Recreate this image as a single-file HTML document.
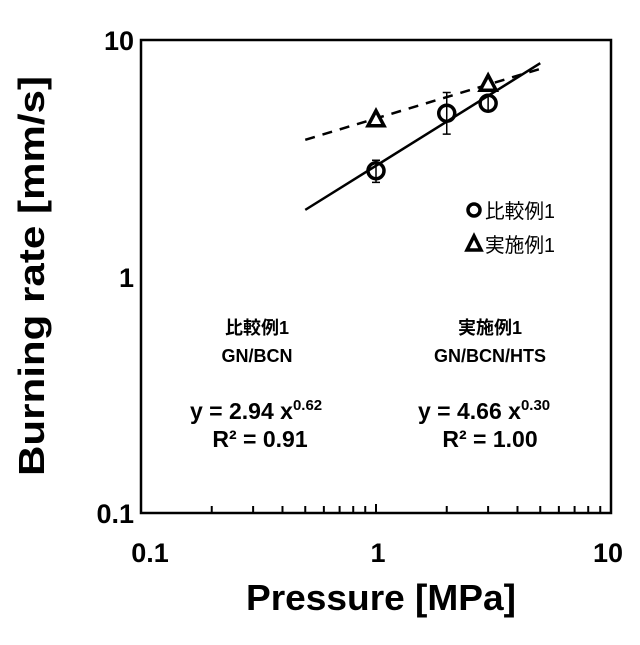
<!DOCTYPE html>
<html><head><meta charset="utf-8"><style>
body{margin:0;background:#fff;}
svg text{font-family:"Liberation Sans","Noto Sans CJK JP",sans-serif;font-weight:bold;fill:#000;}
</style></head><body>
<svg id="chart" width="640" height="640" viewBox="0 0 640 640">
<rect x="141" y="40" width="470" height="473" fill="none" stroke="#000" stroke-width="2.5"/>
<g id="ticks"></g>
<g id="marks"></g>
<text x="150" y="562" font-size="27" text-anchor="middle">0.1</text>
<text x="378" y="562" font-size="27" text-anchor="middle">1</text>
<text x="608" y="562" font-size="27" text-anchor="middle">10</text>
<text x="134" y="50" font-size="27" text-anchor="end">10</text>
<text x="134" y="287" font-size="27" text-anchor="end">1</text>
<text x="134" y="523" font-size="27" text-anchor="end">0.1</text>
<text x="246" y="610" font-size="36" textLength="270" lengthAdjust="spacingAndGlyphs">Pressure [MPa]</text>
<text transform="translate(44,476) rotate(-90)" font-size="36" textLength="400" lengthAdjust="spacingAndGlyphs">Burning rate [mm/s]</text>
<g>
<circle cx="474" cy="210" r="6" fill="none" stroke="#000" stroke-width="3.5"/>
<text x="485" y="218" font-size="20" textLength="70" lengthAdjust="spacingAndGlyphs" style="font-weight:normal">比較例1</text>
<polygon points="474,236 467,250 481,250" fill="#fff" stroke="#000" stroke-width="3.5"/>
<text x="485" y="252" font-size="20" textLength="70" lengthAdjust="spacingAndGlyphs" style="font-weight:normal">実施例1</text>
</g>
<g text-anchor="middle">
<text x="257" y="334" font-size="18">比較例1</text>
<text x="257" y="362" font-size="18">GN/BCN</text>
<text x="190" y="419" font-size="23" text-anchor="start">y = 2.94 x<tspan font-size="15" dy="-9">0.62</tspan></text>
<text x="260" y="447" font-size="23">R² = 0.91</text>
</g>
<g text-anchor="middle">
<text x="490" y="334" font-size="18">実施例1</text>
<text x="490" y="362" font-size="18">GN/BCN/HTS</text>
<text x="418" y="419" font-size="23" text-anchor="start">y = 4.66 x<tspan font-size="15" dy="-9">0.30</tspan></text>
<text x="490" y="447" font-size="23">R² = 1.00</text>
</g>
</svg>
<script>
const circP=[1,2,3];
const circV=[2.8,4.9,5.4];
const circLo=[2.5,4.0,5.0];
const circHi=[3.1,6.0,5.8];
const triP=[1,3];
const triV=[4.6,6.5];
const fitA=[2.94,0.62];
const fitB=[4.66,0.30];
const fitRange=[0.5,5];
const NS='http://www.w3.org/2000/svg';
const X=v=>141+(Math.log10(v)+1)*235;
const Y=v=>513-(Math.log10(v)+1)*236.5;
const marks=document.getElementById('marks'),ticks=document.getElementById('ticks');
function mk(tag,at,parent){const e=document.createElementNS(NS,tag);for(const k in at)e.setAttribute(k,at[k]);parent.appendChild(e);return e;}
for(let d=0;d<2;d++)for(let m=2;m<=9;m++){const v=Math.pow(10,d-1)*m;
 const t=mk('line',{x1:X(v),x2:X(v),y1:513,y2:506,stroke:'#000','stroke-width':2},ticks);
 
 }
const t1=mk('line',{x1:X(1),x2:X(1),y1:513,y2:504,stroke:'#000','stroke-width':2},ticks);


function fit(p,dash,name){const xs=fitRange;
 const l=mk('line',{x1:X(xs[0]),y1:Y(p[0]*Math.pow(xs[0],p[1])),x2:X(xs[1]),y2:Y(p[0]*Math.pow(xs[1],p[1])),stroke:'#000','stroke-width':2.5,'stroke-dasharray':dash},marks);
 
 }
fit(fitA,'none','fit-line-comparative');
fit(fitB,'10,8','fit-line-example');
circP.forEach((p,i)=>{
 const e=mk('path',{d:`M${X(p)-4},${Y(circLo[i])}h8M${X(p)},${Y(circLo[i])}V${Y(circHi[i])}M${X(p)-4},${Y(circHi[i])}h8`,stroke:'#000','stroke-width':1.5,fill:'none'},marks);
 
 });
triP.forEach((p,i)=>{const x=X(p),y=Y(triV[i]);
 const t=mk('polygon',{points:`${x},${y-9} ${x-8},${y+6} ${x+8},${y+6}`,fill:'#fff',stroke:'#000','stroke-width':3.5},marks);
 
 });
circP.forEach((p,i)=>{
 const c=mk('circle',{cx:X(p),cy:Y(circV[i]),r:8,fill:'none',stroke:'#000','stroke-width':3.5},marks);
 
 });
</script>
</body></html>
